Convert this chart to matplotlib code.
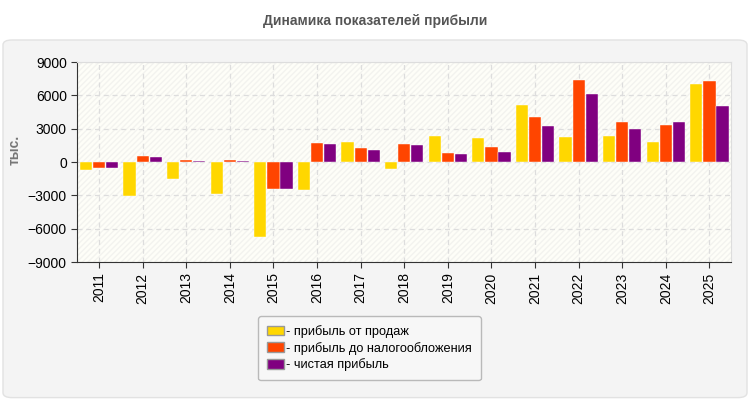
import matplotlib
matplotlib.use("Agg")
import matplotlib.pyplot as plt
from matplotlib.patches import FancyBboxPatch, Rectangle
import numpy as np

plt.rcParams["font.family"] = ["Liberation Sans", "DejaVu Sans"]

years = ["2011", "2012", "2013", "2014", "2015", "2016", "2017", "2018",
         "2019", "2020", "2021", "2022", "2023", "2024", "2025"]
sales = [-700, -3100, -1500, -2860, -6740, -2500, 1830, -600,
         2370, 2190, 5160, 2280, 2370, 1830, 7050]
pretax = [-510, 570, 210, 210, -2400, 1740, 1300, 1650,
          840, 1380, 4080, 7410, 3630, 3360, 7320]
net = [-510, 480, 120, 120, -2400, 1650, 1110, 1560,
       750, 930, 3270, 6150, 3000, 3630, 5070]
labels = ["- прибыль от продаж", "- прибыль до налогообложения", "- чистая прибыль"]
colors = ["#FFD700", "#FF4500", "#800080"]

fig = plt.figure(figsize=(7.5, 4), dpi=100)
fig.patch.set_facecolor("white")

# gray rounded panel behind the chart
panel = FancyBboxPatch((0.004, 0.006), 0.992, 0.894,
                       boxstyle="round,pad=0,rounding_size=0.012",
                       transform=fig.transFigure, facecolor="#f4f4f4",
                       edgecolor="#e2e2e2", linewidth=1, zorder=-10)
fig.patches.append(panel)

fig.text(0.5, 0.948, "Динамика показателей прибыли", ha="center", va="center",
         fontsize=10, fontweight="bold", color="#555555")

ax = fig.add_axes([0.103, 0.345, 0.872, 0.5])
ax.set_zorder(1)
ax.set_facecolor("#fefef8")
ax.add_patch(Rectangle((0, 0), 1, 1, transform=ax.transAxes, facecolor="none",
                       edgecolor="#f3f3ef", hatch="//////", linewidth=0, zorder=0))

x = np.arange(len(years))
w = 0.28
step = 0.3
for i, (vals, c, lab) in enumerate(zip([sales, pretax, net], colors, labels)):
    ax.bar(x + (i - 1) * step, vals, width=w, color=c, label=lab, zorder=3,
           edgecolor="white", linewidth=0.3)

ax.set_xlim(-0.5, len(years) - 0.5)
ax.set_ylim(-9000, 9000)
ax.set_yticks(np.arange(-9000, 9001, 3000))
ax.set_xticks(x)
ax.set_xticklabels(years, rotation=90, fontsize=10)
ax.tick_params(axis="y", labelsize=10, length=4, color="#333333")
ax.tick_params(axis="x", length=4, color="#333333")
ax.grid(True, linestyle=(0, (4, 3)), color="#dddddd", linewidth=0.9, zorder=1)
ax.set_axisbelow(True)
for s in ["top", "right"]:
    ax.spines[s].set_color("#dddddd")
for s in ["left", "bottom"]:
    ax.spines[s].set_color("#333333")

ax.set_ylabel("тыс.", fontsize=10, fontweight="bold", color="#777777")
ax.yaxis.set_label_coords(-0.085, 0.56)

leg = fig.legend(loc="upper left", bbox_to_anchor=(0.344, 0.21), fontsize=9.2,
                 frameon=True, fancybox=True, handlelength=1.3, handleheight=0.8,
                 handletextpad=0.2, labelspacing=0.3, borderpad=0.7,
                 borderaxespad=0)
leg.get_frame().set_edgecolor("#aaaaaa")
leg.get_frame().set_facecolor("#f8f8f8")
for h in leg.legend_handles:
    h.set_edgecolor("#999999")
    h.set_linewidth(1)

fig.savefig("out.png", dpi=100, facecolor=fig.get_facecolor())
